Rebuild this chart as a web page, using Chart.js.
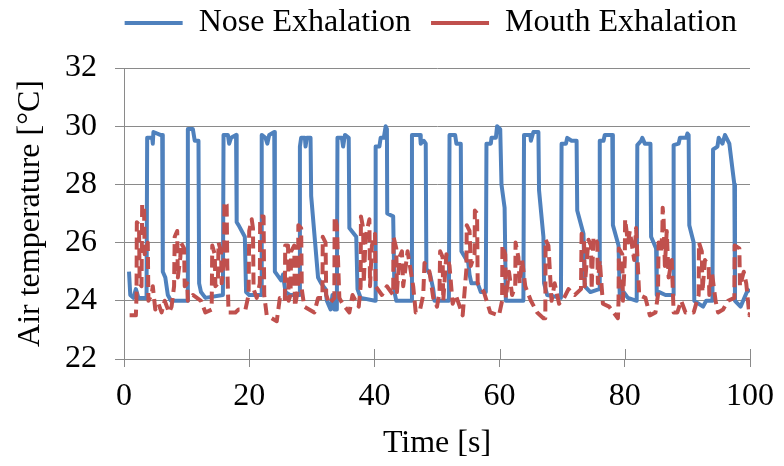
<!DOCTYPE html>
<html>
<head>
<meta charset="utf-8">
<script src="https://cdn.jsdelivr.net/npm/chart.js@4/dist/chart.umd.min.js"></script>
<style>
html,body{margin:0;padding:0;background:#fff;}
#wrap{width:784px;height:466px;}
</style>
</head>
<body>
<div id="wrap"><canvas id="c" width="784" height="466"></canvas></div>
<script>
// ---- data (time [s], temperature [°C]) ----
const seriesNames = ["Nose Exhalation", "Mouth Exhalation"];
const timeTicks = [0, 20, 40, 60, 80, 100];
const tempTicks = [22, 24, 26, 28, 30, 32];

const noseExhalation = [
[0.8,25.0],[1.0,24.2],[1.5,24.1],[1.9,24.4],[2.3,24.1],[3.6,24.1],
[3.7,29.6],[4.5,29.6],[4.6,29.4],[4.7,29.8],[5.8,29.7],[6.1,29.7],
[6.2,25.0],[6.6,24.8],[7.0,24.2],[7.5,24.0],[10.1,24.0],
[10.2,29.9],[11.0,29.9],[11.3,29.5],[11.9,29.5],
[12.0,24.6],[12.3,24.3],[13.0,24.1],[15.8,24.2],
[15.9,29.7],[16.6,29.7],[16.8,29.4],[17.1,29.6],[17.9,29.7],
[18.0,26.7],[18.3,26.6],[19.3,26.2],[19.5,24.3],[20.0,24.2],[21.9,24.2],
[22.0,29.7],[22.6,29.6],[22.9,29.4],[23.2,29.7],[24.0,29.8],
[24.1,25.0],[25.1,24.7],[25.4,24.9],[25.8,24.3],[26.5,24.2],[28.0,24.2],
[28.1,29.3],[28.3,29.6],[28.9,29.6],[29.0,29.3],[29.2,29.6],[29.8,29.6],
[29.9,27.6],[31.0,24.8],[31.5,24.6],[32.2,24.4],[32.4,24.0],[33.0,23.7],[33.3,24.2],[33.6,23.7],[34.0,23.7],
[34.1,29.6],[34.8,29.6],[35.0,29.3],[35.3,29.7],[35.9,29.6],
[36.0,26.5],[37.1,26.2],[37.3,24.4],[37.8,24.1],[40.1,24.0],
[40.2,29.3],[40.8,29.3],[41.0,29.6],[41.5,29.6],[41.8,30.0],[42.0,29.9],
[42.05,27.0],[43.0,26.9],[43.2,24.3],[43.5,24.0],[45.9,24.0],
[46.0,29.7],[47.3,29.7],[47.4,29.4],[47.9,29.5],[48.2,29.4],
[48.3,25.1],[48.9,24.9],[49.4,24.4],[49.6,24.0],[51.9,24.0],
[52.0,29.7],[52.9,29.7],[53.1,29.4],[53.8,29.4],
[53.9,25.7],[55.0,25.3],[55.2,24.9],[55.5,24.6],[56.5,24.6],[57.0,24.3],[57.8,24.3],
[57.9,29.4],[58.6,29.4],[58.7,29.6],[59.4,29.6],[59.6,30.0],[60.1,29.9],
[60.3,28.0],[60.8,27.2],[61.0,24.0],[63.8,24.0],
[63.9,29.7],[64.9,29.7],[65.0,29.5],[65.4,29.8],[66.2,29.8],
[66.3,27.8],[67.0,26.2],[67.1,24.6],[67.6,24.2],[69.8,24.1],
[69.9,29.4],[70.6,29.4],[70.8,29.6],[71.5,29.5],[72.3,29.5],
[72.4,27.1],[73.4,26.3],[73.6,24.5],[74.5,24.3],[75.9,24.4],
[76.0,29.5],[76.6,29.5],[76.8,29.7],[78.0,29.7],
[78.1,26.6],[79.0,25.9],[79.2,24.1],[79.8,24.3],[80.5,24.1],[81.9,24.0],
[82.0,29.35],[82.6,29.5],[82.8,29.6],[83.2,29.4],[84.1,29.4],
[84.2,26.2],[85.0,25.8],[85.1,24.2],[85.5,24.3],[86.5,24.2],[87.7,24.2],
[87.8,29.35],[88.6,29.4],[88.8,29.6],[89.8,29.6],[90.0,29.75],[90.2,29.7],
[90.3,26.6],[91.0,26.0],[91.1,24.0],[92.5,23.8],[93.0,24.0],[94.0,24.0],
[94.1,29.2],[94.8,29.3],[95.0,29.6],[95.6,29.4],[96.0,29.7],[96.7,29.4],
[97.5,28.0],[97.6,24.0],[98.5,23.8],[99.5,24.3],[100,24.4]
];

const mouthExhalation = [
[0.9,23.5],[1.9,23.5],[2.0,24.2],[2.05,26.7],[2.4,26.6],[2.5,24.6],[2.8,24.5],[2.9,27.3],[3.2,27.3],[3.3,25.6],
[3.8,26.0],[3.9,24.0],[4.4,24.2],[4.6,24.5],[5.0,23.7],[5.5,23.9],[6.0,23.6],[6.5,24.0],[7.2,23.6],[7.6,23.8],
[8.0,24.5],[8.1,26.2],[8.5,26.4],[8.6,24.8],[9.0,25.5],[9.1,26.0],[9.6,25.8],[9.7,24.5],[10.1,24.6],[10.2,24.0],
[11.0,24.2],[12.3,24.0],[13.0,23.6],[14.0,23.7],[14.1,25.9],[14.5,25.6],[14.6,24.5],[15.0,24.6],[15.1,26.0],[15.5,25.7],
[15.6,24.6],[16.0,25.5],[16.05,27.4],[16.4,27.3],[16.5,25.2],[16.7,23.6],[17.8,23.6],[18.3,23.7],[19.4,23.7],[19.9,24.2],
[20.0,26.4],[20.4,26.8],[20.6,26.5],[20.7,24.4],[21.2,24.1],[21.7,24.6],[21.75,26.9],[22.3,26.9],[22.4,24.2],[22.8,23.5],
[23.6,23.4],[24.4,23.3],[24.9,24.1],[25.4,24.1],[25.7,24.0],[25.75,25.9],[26.2,25.9],[26.3,24.0],[26.6,24.2],[26.7,25.7],
[27.2,25.9],[27.3,23.8],[27.8,24.4],[27.85,26.6],[28.3,26.5],[28.4,24.4],[28.8,23.8],[30.4,23.6],[31.0,24.1],[31.7,24.1],
[31.75,26.2],[32.2,26.0],[32.3,24.2],[32.8,23.9],[33.6,24.1],[33.65,26.9],[34.0,26.6],[34.4,24.1],[34.9,23.9],[36.0,23.6],
[36.5,24.2],[37.5,23.8],[37.8,24.5],[37.85,26.9],[38.2,26.5],[38.3,24.6],[38.6,26.2],[39.2,26.8],[39.3,24.5],[39.6,25.9],
[40.1,26.3],[40.2,24.5],[41.2,24.2],[42.0,24.5],[43.0,24.2],[43.05,26.2],[43.5,25.8],[43.6,24.3],[44.0,25.5],[44.4,25.7],
[44.6,24.5],[45.3,25.7],[46.2,24.5],[46.6,23.6],[47.3,23.7],[47.8,24.2],[48.0,25.3],[48.8,25.0],[49.4,24.1],[50.0,23.8],
[50.4,24.3],[50.5,25.7],[50.9,25.5],[51.0,24.0],[51.5,25.6],[52.0,25.2],[52.5,23.9],[53.0,24.2],[54.1,23.5],[54.7,25.1],
[54.75,26.6],[55.2,26.4],[55.4,25.2],[56.0,25.6],[56.05,27.1],[56.4,27.0],[56.5,24.6],[57.5,24.3],[58.5,23.6],[59.9,23.5],
[60.4,24.0],[60.45,25.9],[60.9,25.6],[61.0,24.1],[61.5,25.0],[62.0,24.2],[62.5,24.5],[62.55,26.0],[63.0,25.5],[63.2,24.6],
[63.6,25.4],[64.1,24.5],[65.0,24.0],[66.0,23.6],[67.0,23.4],[67.3,23.4],[67.35,26.1],[67.8,25.9],[68.3,24.0],[68.8,24.6],
[69.5,23.9],[70.3,24.1],[71.0,24.4],[72.0,24.2],[73.0,24.4],[73.1,26.3],[73.5,26.0],[73.6,24.5],[74.2,26.1],[74.6,25.9],
[74.7,24.4],[75.0,26.2],[75.6,26.0],[75.7,24.6],[76.0,25.4],[76.5,23.9],[77.5,23.8],[78.9,23.4],[79.0,24.0],[79.05,25.8],
[79.6,25.6],[79.7,24.0],[80.0,25.4],[80.05,26.8],[80.5,26.0],[80.8,26.4],[81.5,25.4],[81.8,26.5],[82.3,24.2],[83.3,24.1],
[84.0,23.5],[84.9,23.6],[85.3,24.2],[85.4,26.0],[85.8,25.7],[86.0,26.4],[86.05,27.2],[86.2,26.8],[86.4,25.2],[86.7,26.4],
[87.0,24.8],[87.5,25.4],[87.8,23.6],[88.4,23.6],[89.0,24.0],[89.7,23.6],[91.0,23.6],[91.8,24.2],[91.85,26.0],[92.3,25.7],
[92.4,24.3],[92.8,25.4],[93.4,25.2],[93.5,24.2],[93.9,25.0],[94.5,24.0],[94.9,23.6],[95.7,23.7],[96.5,24.0],[97.5,24.1],
[97.55,25.9],[98.3,25.8],[98.4,24.5],[99.0,25.0],[99.4,24.6],[99.9,23.5],[100,23.6]
];

const GRID = '#8a8a8a';
const FONT = 'Liberation Serif';

// draws the inner half of cross-style tick marks using the scales
const crossTicks = {
  id: 'crossTicks',
  afterDatasetsDraw(chart) {
    const ctx = chart.ctx, xs = chart.scales.x, ys = chart.scales.y;
    const area = chart.chartArea;
    ctx.save();
    ctx.strokeStyle = GRID;
    ctx.lineWidth = 1;
    ctx.beginPath();
    xs.ticks.forEach(t => {
      const px = Math.round(xs.getPixelForValue(t.value)) + 0.5;
      ctx.moveTo(px, area.bottom);
      ctx.lineTo(px, area.bottom - 10);
    });
    ys.ticks.forEach(t => {
      if (t.value % 2 !== 0) {
        const py = Math.round(ys.getPixelForValue(t.value)) + 0.5;
        ctx.moveTo(area.left, py);
        ctx.lineTo(area.left + 8, py);
      }
    });
    ctx.stroke();
    ctx.restore();
  }
};

const toXY = arr => arr.map(p => ({x: p[0], y: p[1]}));

new Chart(document.getElementById('c'), {
  type: 'line',
  data: {
    datasets: [
      {
        label: seriesNames[0],
        data: toXY(noseExhalation),
        borderColor: '#4F81BD',
        backgroundColor: '#4F81BD',
        borderWidth: 4,
        pointRadius: 0,
        tension: 0,
        borderJoinStyle: 'round',
        order: 1
      },
      {
        label: seriesNames[1],
        data: toXY(mouthExhalation),
        borderColor: '#C0504D',
        backgroundColor: '#C0504D',
        borderWidth: 4,
        borderDash: [12, 6],
        pointRadius: 0,
        tension: 0,
        borderJoinStyle: 'round',
        order: 0
      }
    ]
  },
  options: {
    responsive: false,
    animation: false,
    devicePixelRatio: 1,
    layout: { padding: { left: 0, right: 27, top: -13, bottom: 0 } },
    plugins: {
      tooltip: { enabled: false },
      title: {
        display: true,
        text: ' ',
        weight: 500,
        font: { size: 19, lineHeight: 1 },
        padding: 0
      },
      legend: {
        position: 'top',
        align: 'end',
        weight: 1000,
        labels: {
          usePointStyle: true,
          pointStyle: 'line',
          pointStyleWidth: 58,
          color: '#000',
          font: { family: FONT, size: 32 },
          padding: 20,
          sort: (a, b) => a.datasetIndex - b.datasetIndex
        }
      }
    },
    scales: {
      x: {
        type: 'linear',
        min: timeTicks[0],
        max: timeTicks[timeTicks.length - 1],
        ticks: {
          stepSize: timeTicks[1] - timeTicks[0],
          color: '#000',
          font: { family: FONT, size: 32 },
          padding: 10,
          maxRotation: 0
        },
        grid: { drawOnChartArea: false, color: GRID, tickLength: 8 },
        border: { color: GRID },
        title: {
          display: true,
          text: 'Time [s]',
          color: '#000',
          font: { family: FONT, size: 32 },
          padding: { top: 0, bottom: 3 }
        },
        afterFit: s => { s.height = 107; }
      },
      y: {
        min: tempTicks[0],
        max: tempTicks[tempTicks.length - 1],
        ticks: {
          stepSize: 1,
          color: '#000',
          font: { family: FONT, size: 32 },
          padding: 18,
          callback: v => (v % 2 === 0 ? String(v) : '')
        },
        grid: {
          color: c => (c.tick && c.tick.value % 2 === 0 ? GRID : 'rgba(0,0,0,0)'),
          tickColor: GRID,
          tickLength: 9
        },
        border: { color: GRID },
        title: {
          display: true,
          text: 'Air temperature [°C]',
          color: '#000',
          font: { family: FONT, size: 32 },
          padding: { top: 11, bottom: 0 }
        },
        afterFit: s => { s.width = 124; }
      }
    }
  },
  plugins: [crossTicks]
});
</script>
</body>
</html>
